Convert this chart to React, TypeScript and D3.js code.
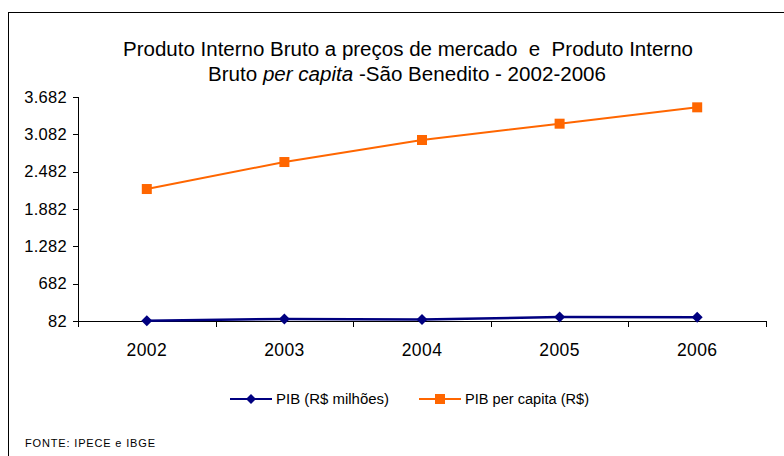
import * as d3 from 'd3';

const years = ['2002', '2003', '2004', '2005', '2006'];
const pibMilhoes = [85, 115, 108, 145, 142];
const pibPerCapita = [2203, 2637, 2991, 3253, 3516];
const yTicks = [82, 682, 1282, 1882, 2482, 3082, 3682];

const ptBR = d3.formatLocale({ decimal: ',', thousands: '.', grouping: [3], currency: ['R$', ''] });
const fmt = ptBR.format(',d');

export default function App() {
  const width = 784;
  const height = 456;
  const left = 78;
  const right = 766;
  const top = 97;
  const bottom = 321;

  const x = d3.scaleBand().domain(years).range([left, right]);
  const y = d3.scaleLinear().domain([82, 3682]).range([bottom, top]);

  const cx = (i: number) => (x(years[i]) as number) + x.bandwidth() / 2;

  const line = d3
    .line<number>()
    .x((d, i) => cx(i))
    .y((d) => y(d));

  const diamond = (s: number) => `M0,${-s}L${s},0L0,${s}L${-s},0Z`;

  return (
    <svg
      width={width}
      height={height}
      style={{ position: 'absolute', left: 0, top: 0, background: '#fff', fontFamily: '"Liberation Sans", Arial, sans-serif' }}
    >
      <rect x={8.5} y={12.5} width={900} height={600} fill="none" stroke="#000" strokeWidth={1} />

      {/* title */}
      <text x={123} y={56} fontSize={19.5} fill="#000" textLength={570} lengthAdjust="spacingAndGlyphs" xmlSpace="preserve">
        Produto Interno Bruto a preços de mercado  e  Produto Interno
      </text>
      <text x={208} y={81} fontSize={19.5} fill="#000" textLength={398} lengthAdjust="spacingAndGlyphs">
        Bruto <tspan fontStyle="italic">per capita</tspan> -São Benedito - 2002-2006
      </text>

      {/* y axis */}
      <line x1={left + 0.5} x2={left + 0.5} y1={top} y2={bottom + 6} stroke="#000" />
      {yTicks.map((t) => (
        <g key={t}>
          <line x1={left - 5} x2={left} y1={Math.round(y(t)) + 0.5} y2={Math.round(y(t)) + 0.5} stroke="#000" />
          <text x={67} y={y(t) + 5.5} textAnchor="end" fontSize={16.5} letterSpacing={0.3} fill="#000">
            {fmt(t)}
          </text>
        </g>
      ))}

      {/* x axis */}
      <line x1={left} x2={right} y1={bottom + 0.5} y2={bottom + 0.5} stroke="#000" />
      {years.concat(['end']).map((yr, i) => {
        const px = i < years.length ? Math.round(x(yr) as number) : right;
        return <line key={'t' + i} x1={px + 0.5} x2={px + 0.5} y1={bottom} y2={bottom + 6} stroke="#000" />;
      })}
      {years.map((yr, i) => (
        <text key={yr} x={cx(i)} y={356} textAnchor="middle" fontSize={17.5} letterSpacing={0.4} fill="#000">
          {yr}
        </text>
      ))}

      {/* series */}
      <path d={line(pibPerCapita) as string} fill="none" stroke="#FF6600" strokeWidth={2} />
      {pibPerCapita.map((v, i) => (
        <rect key={'o' + i} x={cx(i) - 5} y={y(v) - 5} width={10} height={10} fill="#FF6600" />
      ))}
      <path d={line(pibMilhoes) as string} fill="none" stroke="#000080" strokeWidth={2.5} />
      {pibMilhoes.map((v, i) => (
        <path key={'b' + i} transform={`translate(${cx(i)},${y(v)})`} d={diamond(5.5)} fill="#000080" />
      ))}

      {/* legend */}
      <line x1={230} x2={272} y1={399} y2={399} stroke="#000080" strokeWidth={2} />
      <path transform="translate(251,399)" d={diamond(5)} fill="#000080" />
      <text x={276} y={404} fontSize={14} fill="#000" textLength={113} lengthAdjust="spacingAndGlyphs">
        PIB (R$ milhões)
      </text>
      <line x1={419} x2={461} y1={399} y2={399} stroke="#FF6600" strokeWidth={2} />
      <rect x={435} y={394} width={10} height={10} fill="#FF6600" />
      <text x={465} y={404} fontSize={14} fill="#000" textLength={124} lengthAdjust="spacingAndGlyphs">
        PIB per capita (R$)
      </text>

      {/* source */}
      <text x={25} y={447} fontSize={11} fill="#000" textLength={130} lengthAdjust="spacing">
        FONTE: IPECE e IBGE
      </text>
    </svg>
  );
}
